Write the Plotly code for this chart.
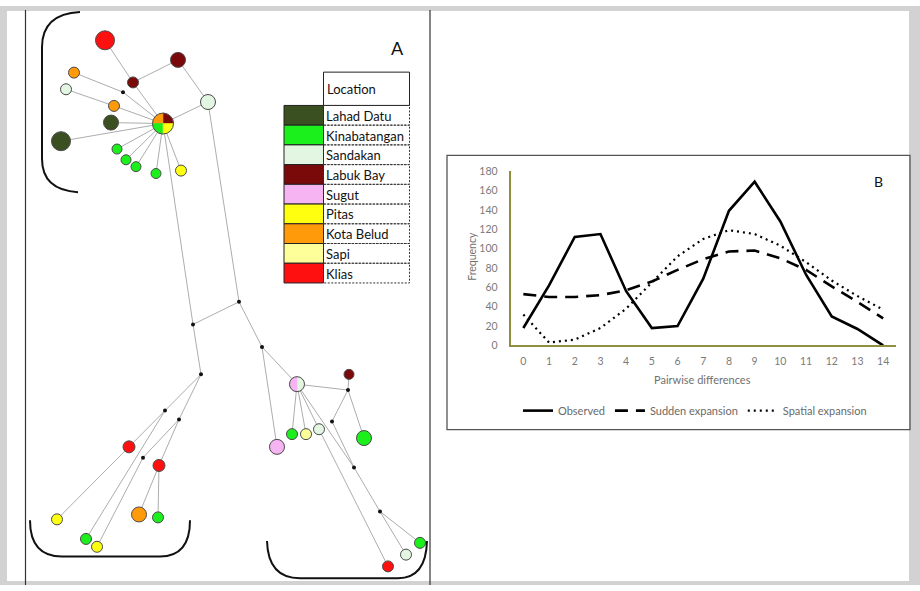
import math
import plotly.graph_objects as go

# ---------------- Panel B data (mismatch distribution) ----------------
pairwise_diff = list(range(15))
observed = [18, 62, 112, 115, 56, 18, 20, 69, 139, 169, 128, 73, 30, 17, 0]
sudden_expansion = [53, 50, 50, 52, 57, 66, 78, 89, 97, 98, 90, 78, 61, 45, 28]
spatial_expansion = [32, 3, 6, 18, 38, 65, 92, 110, 119, 115, 103, 86, 67, 51, 37]
y_ticks = list(range(0, 181, 20))

# ---------------- Panel A data (haplotype network) ----------------
locations = ["Lahad Datu", "Kinabatangan", "Sandakan", "Labuk Bay", "Sugut",
             "Pitas", "Kota Belud", "Sapi", "Klias"]

# node layout (pixel layout of the network drawing), node size class, location
node_x = [163, 105, 178, 133, 123, 74, 66, 114, 208, 111, 61, 117, 126, 136, 156, 181,
          193, 239,
          201, 165, 179, 129, 143, 159, 57, 86, 97, 139, 158,
          262, 297, 277, 292, 306, 319, 348, 349, 332, 364, 354, 380, 420, 406, 388]
node_y = [120, 35, 55, 78, 88, 68, 85, 102, 98, 119, 138, 146, 157, 164, 171, 168,
          325, 302,
          376, 413, 422, 450, 461, 469, 524, 544, 552, 519, 522,
          348, 386, 450, 437, 437, 432, 392, 376, 424, 441, 471, 516, 548, 560, 572]
node_loc = ["PIE1", "Klias", "Labuk Bay", "Labuk Bay", None, "Kota Belud", "Sandakan",
            "Kota Belud", "Sandakan", "Lahad Datu", "Lahad Datu", "Kinabatangan",
            "Kinabatangan", "Kinabatangan", "Kinabatangan", "Pitas",
            None, None,
            None, None, None, "Klias", None, "Klias", "Pitas", "Kinabatangan", "Pitas",
            "Kota Belud", "Kinabatangan",
            None, "PIE2", "Sugut", "Kinabatangan", "Sapi", "Sandakan", None, "Labuk Bay",
            None, "Kinabatangan", None, None, "Kinabatangan", "Sandakan", "Klias"]
node_size = [21, 19, 15, 11, 4, 11, 11, 11, 15, 15, 19, 10, 10, 10, 10, 11,
             4, 4,
             4, 4, 4, 12, 4, 12, 11, 11, 11, 15, 11,
             4, 15, 15, 11, 11, 11, 4, 10, 4, 15, 4, 4, 11, 11, 11]
pie_parts = {"PIE1": ["Labuk Bay", "Kota Belud", "Kinabatangan", "Pitas"],
             "PIE2": ["Sandakan", "Sugut"]}

edges = [(0, 3), (3, 1), (3, 2), (2, 8), (8, 0), (5, 4), (4, 0), (6, 7), (7, 0),
         (9, 0), (10, 0), (11, 0), (12, 0), (13, 0), (14, 0), (15, 0),
         (0, 16), (8, 17), (16, 17), (16, 18), (18, 19), (18, 20), (19, 21), (19, 25),
         (20, 22), (20, 23), (22, 26), (21, 24), (23, 27), (23, 28),
         (17, 29), (29, 30), (29, 31), (30, 32), (30, 33), (30, 34), (30, 35),
         (35, 36), (35, 37), (35, 38), (30, 39), (37, 39), (39, 40), (40, 41),
         (40, 42), (34, 43)]

# ---------------- styles ----------------
loc_color = {"Lahad Datu": "#3b5020", "Kinabatangan": "#1cf01c", "Sandakan": "#e2f6e2",
             "Labuk Bay": "#7a0a0a", "Sugut": "#f6b4f2", "Pitas": "#ffff10",
             "Kota Belud": "#ff9a0a", "Sapi": "#ffff9a", "Klias": "#ff1010"}
FONT = "Lato, 'Open Sans', sans-serif"
W, H = 920, 591

fig = go.Figure()

# edges
ex, ey = [], []
for a, b in edges:
    ex += [node_x[a], node_x[b], None]
    ey += [node_y[a], node_y[b], None]
fig.add_trace(go.Scatter(x=ex, y=ey, mode="lines", line=dict(color="#adadad", width=1),
                         hoverinfo="skip", showlegend=False, xaxis="x", yaxis="y"))

# simple nodes
sx, sy, ss, sc, sl = [], [], [], [], []
for i in range(len(node_x)):
    loc = node_loc[i]
    if loc in pie_parts:
        continue
    sx.append(node_x[i]); sy.append(node_y[i]); ss.append(node_size[i])
    if loc is None:
        sc.append("#111111"); sl.append(0)
    else:
        sc.append(loc_color[loc]); sl.append(1)
fig.add_trace(go.Scatter(x=sx, y=sy, mode="markers",
                         marker=dict(size=ss, color=sc, opacity=1,
                                     line=dict(color="#4a4a4a", width=sl)),
                         hoverinfo="skip", showlegend=False, xaxis="x", yaxis="y"))

# pie nodes
for i in range(len(node_x)):
    loc = node_loc[i]
    if loc not in pie_parts:
        continue
    parts = pie_parts[loc]
    r = node_size[i] / 2
    n = len(parts)
    for k, p in enumerate(parts):
        a0 = -90 + 360 * k / n if n == 2 else 0 + 90 * k
        a1 = a0 + 360 / n
        px, py = [node_x[i]], [node_y[i]]
        for s in range(21):
            ang = math.radians(a0 + (a1 - a0) * s / 20)
            px.append(node_x[i] + r * math.cos(ang))
            py.append(node_y[i] - r * math.sin(ang))
        px.append(node_x[i]); py.append(node_y[i])
        fig.add_trace(go.Scatter(x=px, y=py, mode="lines", fill="toself",
                                 fillcolor=loc_color[p], line=dict(color=loc_color[p], width=0.5),
                                 hoverinfo="skip", showlegend=False, xaxis="x", yaxis="y"))
    fig.add_trace(go.Scatter(x=[node_x[i]], y=[node_y[i]], mode="markers",
                             marker=dict(size=node_size[i], color="rgba(0,0,0,0)", opacity=1,
                                         line=dict(color="#4a4a4a", width=1)),
                             hoverinfo="skip", showlegend=False, xaxis="x", yaxis="y"))

# ---------------- panel B traces ----------------
fig.add_trace(go.Scatter(x=pairwise_diff, y=observed, mode="lines", name="Observed",
                         line=dict(color="black", width=2.6), xaxis="x2", yaxis="y2"))
fig.add_trace(go.Scatter(x=pairwise_diff, y=sudden_expansion, mode="lines",
                         name="Sudden expansion",
                         line=dict(color="black", width=2.6, dash="13px,8px"),
                         xaxis="x2", yaxis="y2"))
fig.add_trace(go.Scatter(x=pairwise_diff, y=spatial_expansion, mode="lines",
                         name="Spatial expansion",
                         line=dict(color="black", width=2.2, dash="2px,4px"),
                         xaxis="x2", yaxis="y2"))

shapes = []
# page shadow frame
g = "#d2d2d2"
shapes += [
    dict(type="rect", xref="x", yref="y", x0=0, x1=7, y0=0, y1=591, fillcolor=g, line_width=0, layer="below"),
    dict(type="rect", xref="x", yref="y", x0=909, x1=920, y0=0, y1=591, fillcolor=g, line_width=0, layer="below"),
    dict(type="rect", xref="x", yref="y", x0=0, x1=920, y0=0, y1=5, fillcolor=g, line_width=0, layer="below"),
    dict(type="rect", xref="x", yref="y", x0=0, x1=920, y0=587, y1=591, fillcolor=g, line_width=0, layer="below"),
]
# panel A frame lines
shapes += [
    dict(type="line", xref="x", yref="y", x0=25.5, x1=25.5, y0=4, y1=591, line=dict(color="#333", width=1.2)),
    dict(type="line", xref="x", yref="y", x0=430, x1=430, y0=4, y1=591, line=dict(color="#333", width=1.2)),
]
# panel B frame
shapes.append(dict(type="rect", xref="x", yref="y", x0=447, x1=910, y0=152.5, y1=432.5,
                   line=dict(color="#555", width=1.3), layer="below"))
# brackets
bk = dict(color="#111", width=2)
shapes += [
    dict(type="path", xref="x", yref="y", path="M 80,6 Q 42,8 42,42 L 42,156 Q 42,188 78,190", line=bk),
    dict(type="path", xref="x", yref="y", path="M 30,525 Q 30,562 62,562 L 160,562 Q 190,562 190,525", line=bk),
    dict(type="path", xref="x", yref="y", path="M 267,546 Q 268,584 300,584 L 398,584 Q 426,584 427,546", line=bk),
]
# location table
tx0, tx1, tx2 = 284, 323.5, 409.5
ty0, ty1 = 67.5, 101.5
rh = (282.7 - ty1) / len(locations)
shapes.append(dict(type="rect", xref="x", yref="y", x0=tx1, x1=tx2, y0=ty0, y1=ty1,
                   line=dict(color="#222", width=1)))
anns = [dict(x=tx1 + 1.5, y=(ty0 + ty1) / 2, xref="x", yref="y", text="Location", showarrow=False,
             xanchor="left", yanchor="middle", font=dict(family=FONT, size=13, color="#111"))]
for k, loc in enumerate(locations):
    y0 = ty1 + k * rh
    shapes.append(dict(type="rect", xref="x", yref="y", x0=tx0, x1=tx1, y0=y0, y1=y0 + rh,
                       fillcolor=loc_color[loc], line=dict(color="#222", width=1)))
    shapes.append(dict(type="rect", xref="x", yref="y", x0=tx1, x1=tx2, y0=y0, y1=y0 + rh,
                       line=dict(color="#333", width=1, dash="2px,1.5px")))
    anns.append(dict(x=tx1 + 0.5, y=y0 + rh / 2 + 0.5, xref="x", yref="y", text=loc, showarrow=False,
                     xanchor="left", yanchor="middle",
                     font=dict(family=FONT, size=13, color="#111")))

anns.append(dict(x=397, y=43, xref="x", yref="y", text="A", showarrow=False,
                 font=dict(family=FONT, size=18, color="#111")))
anns.append(dict(x=878, y=179, xref="x", yref="y", text="B", showarrow=False,
                 font=dict(family=FONT, size=14, color="#111")))
anns.append(dict(x=702, y=381, xref="x", yref="y", text="Pairwise differences", showarrow=False,
                 font=dict(family=FONT, size=11, color="#707070")))
anns.append(dict(x=472, y=256, xref="x", yref="y", text="Frequency", showarrow=False, textangle=-90,
                 font=dict(family=FONT, size=10.5, color="#707070")))

axcol = "#8f8f40"
fig.update_layout(
    width=W, height=H, autosize=False,
    margin=dict(l=0, r=0, t=0, b=0),
    paper_bgcolor="white", plot_bgcolor="rgba(0,0,0,0)",
    xaxis=dict(range=[0, W], domain=[0, 1], visible=False, fixedrange=True),
    yaxis=dict(range=[H, 0], domain=[0, 1], visible=False, fixedrange=True),
    xaxis2=dict(range=[-0.5, 14.5], domain=[510.5 / W, 896 / W], anchor="y2",
                tickvals=pairwise_diff, ticktext=[str(v) for v in pairwise_diff],
                showline=True, linecolor=axcol, linewidth=1.5, showgrid=False, zeroline=False,
                ticks="", ticklabelstandoff=5,
                tickfont=dict(family=FONT, size=10.5, color="#7a7a7a")),
    yaxis2=dict(range=[0, 180], domain=[1 - 346.5 / H, 1 - 168.5 / H], anchor="x2",
                tickvals=y_ticks, showline=True, linecolor=axcol, linewidth=1.5,
                showgrid=False, zeroline=False, ticks="", ticklabelstandoff=9,
                tickfont=dict(family=FONT, size=10.5, color="#7a7a7a")),
    shapes=shapes, annotations=anns,
    showlegend=True,
    legend=dict(orientation="h", x=695 / W, xanchor="center", y=1 - 413 / H, yanchor="middle",
                font=dict(family=FONT, size=11, color="#6a6a6a"), bgcolor="rgba(0,0,0,0)",
                itemwidth=30, tracegroupgap=0),
)

fig.write_html("out.html", config={"displayModeBar": False},
               post_script="document.body.style.margin='0';document.body.style.padding='0';"
                           "document.documentElement.style.overflow='hidden';")
